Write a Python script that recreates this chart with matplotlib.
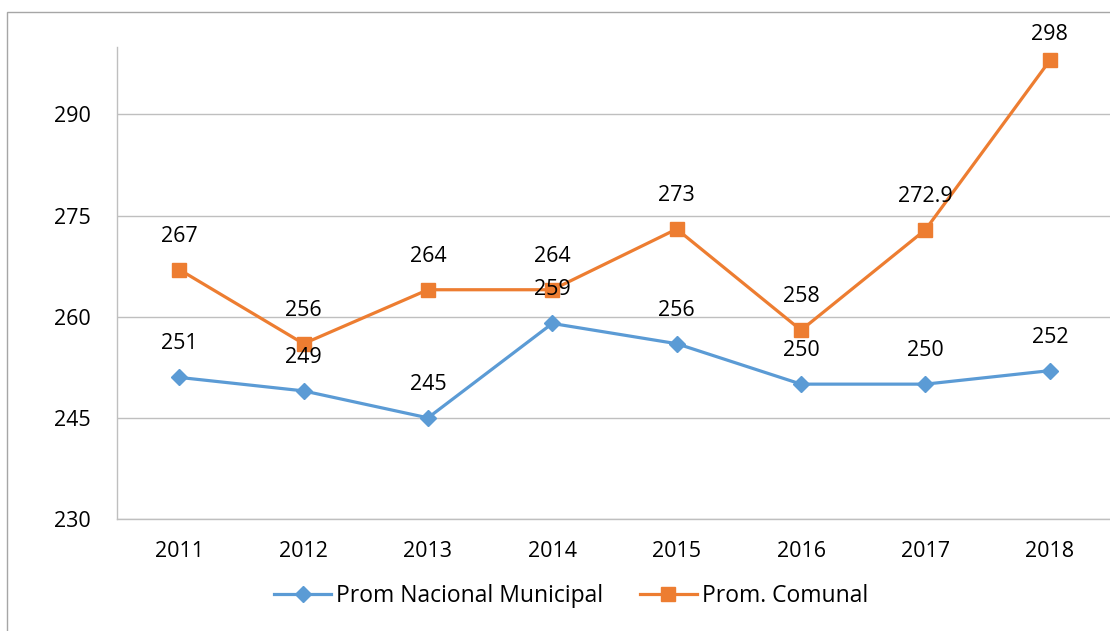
import matplotlib

matplotlib.use("Agg")
import matplotlib.pyplot as plt
from matplotlib.patches import Rectangle
from matplotlib.lines import Line2D

BLUE = "#5b9bd5"
ORANGE = "#ed7d31"
GRID = "#bfbfbf"

years = ["2011", "2012", "2013", "2014", "2015", "2016", "2017", "2018"]
nacional = [251, 249, 245, 259, 256, 250, 250, 252]
comunal = [267, 256, 264, 264, 273, 258, 272.9, 298]
nacional_labels = ["251", "249", "245", "259", "256", "250", "250", "252"]
comunal_labels = ["267", "256", "264", "264", "273", "258", "272.9", "298"]
yticks = [230, 245, 260, 275, 290]

plt.rcParams["font.family"] = ["Open Sans", "DejaVu Sans"]
FS = 15.5

W, H = 1110, 631
fig = plt.figure(figsize=(W / 100, H / 100), dpi=100)
fig.patch.set_facecolor("white")

# outer chart frame (runs off the right/bottom edges in the original)
fig.patches.append(Rectangle((7 / W, -0.05), 1.2, 1 - 12 / H + 0.05,
                             transform=fig.transFigure, fill=False,
                             edgecolor="#a6a6a6", linewidth=1.0))

ax = fig.add_axes([117 / W, 1 - 519 / H, (1112 - 117) / W, (519 - 47) / H])
x = list(range(len(years)))

ax.plot(x, nacional, color=BLUE, linewidth=2.3, marker="D", markersize=8,
        zorder=3, label="Prom Nacional Municipal")
ax.plot(x, comunal, color=ORANGE, linewidth=2.3, marker="s", markersize=10,
        zorder=3, label="Prom. Comunal")

for xi, v, t in zip(x, nacional, nacional_labels):
    ax.annotate(t, (xi, v), xytext=(0, 23), textcoords="offset pixels",
                ha="center", va="bottom", fontsize=FS, color="black")
for xi, v, t in zip(x, comunal, comunal_labels):
    # the top label is nudged down to stay inside the plot area
    dy = 15 if v > 295 else 23
    ax.annotate(t, (xi, v), xytext=(0, dy), textcoords="offset pixels",
                ha="center", va="bottom", fontsize=FS, color="black")

ax.set_xlim(-0.5, len(years) - 0.5)
ax.set_ylim(230, 300)
ax.set_yticks(yticks)
ax.set_xticks(x)
ax.set_xticklabels(years)
ax.tick_params(axis="both", length=0, labelsize=FS, colors="black")
ax.tick_params(axis="x", pad=16)
ax.tick_params(axis="y", pad=19)
ax.grid(axis="y", color=GRID, linewidth=1.0, zorder=0)
for name, spine in ax.spines.items():
    if name in ("left", "bottom"):
        spine.set_color(GRID)
        spine.set_linewidth(1.0)
    else:
        spine.set_visible(False)

handles = [
    Line2D([], [], color=BLUE, linewidth=2.3, marker="D", markersize=8),
    Line2D([], [], color=ORANGE, linewidth=2.3, marker="s", markersize=10),
]
fig.legend(handles, ["Prom Nacional Municipal", "Prom. Comunal"],
           loc="center", bbox_to_anchor=(571 / W, 1 - 596 / H), ncol=2,
           frameon=False, fontsize=16.5, handlelength=2.5, handletextpad=0.2,
           columnspacing=1.6)

fig.savefig("out.png", dpi=100, facecolor="white")
